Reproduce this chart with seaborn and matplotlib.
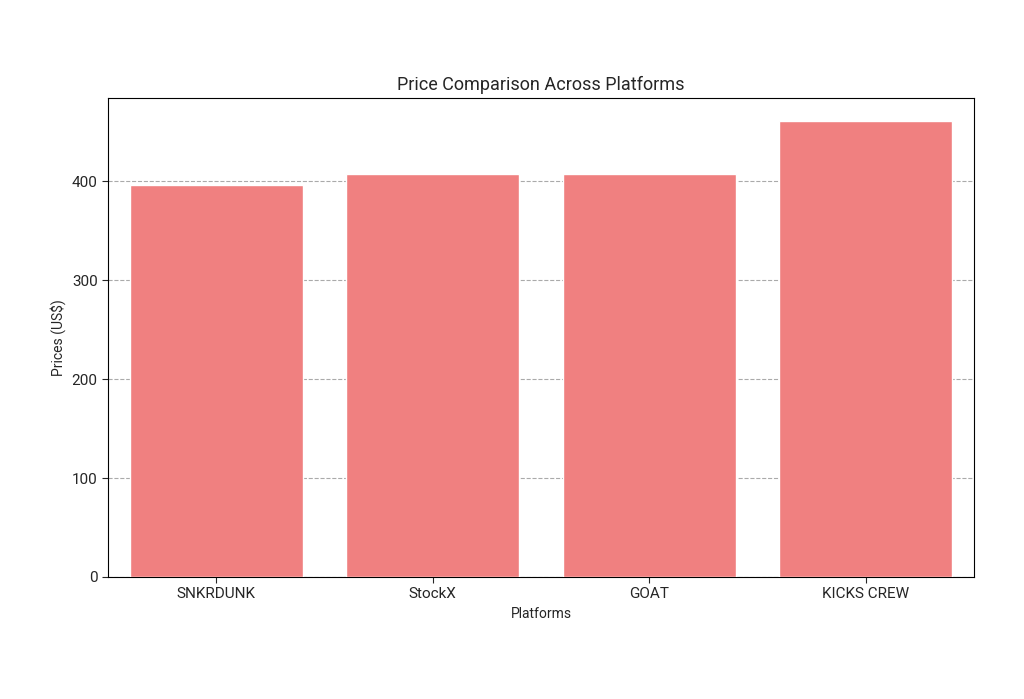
import matplotlib
matplotlib.use("Agg")
import matplotlib.pyplot as plt
import seaborn as sns
import pandas as pd

platforms = ["SNKRDUNK", "StockX", "GOAT", "KICKS CREW"]
prices = [396, 407, 407, 461]

df = pd.DataFrame({"Platforms": platforms, "Prices": prices})

sns.set_style("white")
plt.rcParams["font.family"] = ["Roboto", "DejaVu Sans"]

fig = plt.figure(figsize=(10.24, 6.99), dpi=100)
ax = fig.add_axes([108 / 1024, 1 - 577 / 699, 866 / 1024, 479 / 699])
sns.barplot(data=df, x="Platforms", y="Prices", color="lightcoral", saturation=1,
            width=0.8, ax=ax, zorder=3)
ax.yaxis.grid(True, linestyle="--", color="#aaaaaa", linewidth=0.8, zorder=0)
ax.set_axisbelow(True)
ax.set_title("Price Comparison Across Platforms", fontsize=13)
ax.set_xlabel("Platforms", fontsize=10)
ax.set_ylabel("Prices (US$)", fontsize=10)
ax.tick_params(axis="both", labelsize=11, length=4, left=True, bottom=True)
for s in ax.spines.values():
    s.set_color("black")
    s.set_linewidth(0.8)
fig.savefig("out.png", dpi=100)
